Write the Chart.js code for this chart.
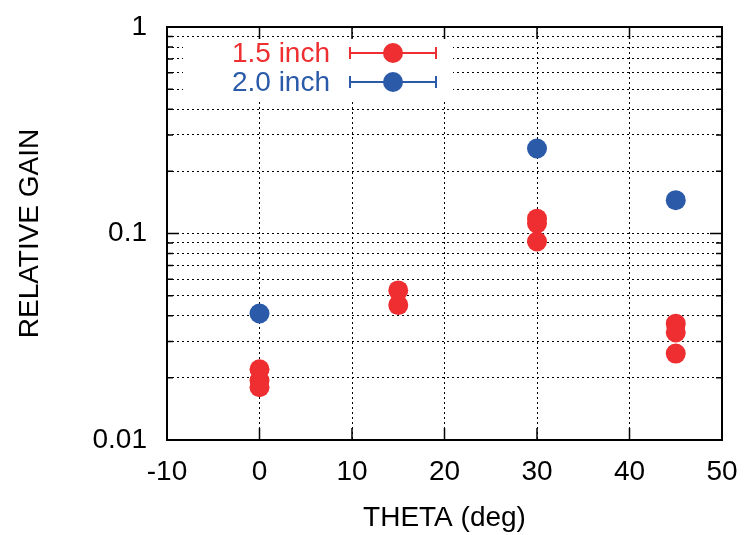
<!DOCTYPE html>
<html>
<head>
<meta charset="utf-8">
<script src="https://cdn.jsdelivr.net/npm/chart.js@4.4.1/dist/chart.umd.min.js"></script>
<style>
  html, body { margin: 0; padding: 0; background: #fff; }
  #wrap { width: 746px; height: 535px; }
</style>
</head>
<body>
<div id="wrap"><canvas id="myChart"></canvas></div>
<script>
// data
const redTheta = [0, 0, 0, 15, 15, 30, 30, 30, 45, 45, 45]
const redGain = [0.022, 0.0194, 0.018, 0.053, 0.045, 0.118, 0.112, 0.0915, 0.0366, 0.0332, 0.0262]
const blueTheta = [0, 30, 45]
const blueGain = [0.041, 0.258, 0.145]

const xTicks = [-10, 0, 10, 20, 30, 40, 50]
const yMajor = [0.01, 0.1, 1]
const yLabels = ['0.01', '0.1', '1']
const seriesNames = ['1.5 inch', '2.0 inch']

const RED = '#ee2e30'
const BLUE = '#2b5aa8'
const FONT = '"Liberation Sans", Arial, sans-serif'

const toPoints = (xs, ys) => xs.map((x, i) => ({x: x, y: ys[i]}))

// minor decade positions for the log axis
const yAll = []
yMajor.slice(0, -1).forEach(d => { for (let k = 1; k < 10; k++) yAll.push(d * k) })
yAll.push(1)

// gnuplot-like frame, inward ticks on all four sides, and the legend
const framePlugin = {
    id: 'frame',
    afterDatasetsDraw(chart) {
        const ctx = chart.ctx
        const a = chart.chartArea
        const xs = chart.scales.x
        const ys = chart.scales.y
        ctx.save()
        // opaque key box
        ctx.fillStyle = '#fff'
        ctx.fillRect(183, 38, 270, 63)

        ctx.strokeStyle = '#000'
        ctx.lineWidth = 1.5
        ctx.beginPath()
        xTicks.forEach(v => {
            const px = xs.getPixelForValue(v)
            ctx.moveTo(px, a.bottom); ctx.lineTo(px, a.bottom - 12)
            ctx.moveTo(px, a.top); ctx.lineTo(px, a.top + 12)
        })
        yAll.forEach(v => {
            const py = ys.getPixelForValue(v)
            const len = yMajor.some(m => Math.abs(m - v) < 1e-9) ? 12 : 6
            ctx.moveTo(a.left, py); ctx.lineTo(a.left + len, py)
            ctx.moveTo(a.right, py); ctx.lineTo(a.right - len, py)
        })
        ctx.stroke()
        ctx.lineWidth = 2
        ctx.strokeRect(a.left, a.top, a.right - a.left, a.bottom - a.top)

        // legend
        const rows = [[seriesNames[0], RED, 53], [seriesNames[1], BLUE, 82]]
        ctx.font = '28px ' + FONT
        ctx.textAlign = 'right'
        ctx.textBaseline = 'middle'
        rows.forEach(([txt, col, y]) => {
            ctx.fillStyle = col
            ctx.strokeStyle = col
            ctx.fillText(txt, 330, y + 1)
            ctx.lineWidth = 2
            ctx.beginPath()
            ctx.moveTo(350, y); ctx.lineTo(436, y)
            ctx.moveTo(350, y - 6); ctx.lineTo(350, y + 6)
            ctx.moveTo(436, y - 6); ctx.lineTo(436, y + 6)
            ctx.stroke()
            ctx.beginPath()
            ctx.arc(393, y, 10, 0, Math.PI * 2)
            ctx.fill()
        })
        ctx.restore()
    }
}

const data = {
    datasets: [
        {
            label: seriesNames[0],
            data: toPoints(redTheta, redGain),
            backgroundColor: RED,
            borderWidth: 0,
            pointRadius: 10,
            pointHoverRadius: 10
        },
        {
            label: seriesNames[1],
            data: toPoints(blueTheta, blueGain),
            backgroundColor: BLUE,
            borderWidth: 0,
            pointRadius: 10,
            pointHoverRadius: 10
        }
    ]
}

const config = {
    type: 'scatter',
    data: data,
    options: {
        responsive: true,
        maintainAspectRatio: false,
        animation: false,
        layout: {
            padding: {top: 27, right: 24, left: 0, bottom: 0}
        },
        plugins: {
            legend: {display: false},
            tooltip: {enabled: false}
        },
        scales: {
            x: {
                type: 'linear',
                min: -10,
                max: 50,
                afterFit: s => {
                    s.height = 95
                    s.paddingLeft = 0
                    s.paddingRight = 0
                },
                afterBuildTicks: s => { s.ticks = xTicks.map(v => ({value: v})) },
                grid: {color: '#000', lineWidth: 1, drawTicks: false},
                border: {display: false, dash: [2, 3]},
                ticks: {
                    color: '#000',
                    padding: 15,
                    font: {family: FONT, size: 28},
                    maxRotation: 0
                },
                title: {
                    display: true,
                    text: 'THETA (deg)',
                    color: '#000',
                    font: {family: FONT, size: 28},
                    padding: {top: 0, bottom: 0}
                }
            },
            y: {
                type: 'logarithmic',
                min: 0.01,
                max: 1,
                afterFit: s => {
                    s.width = 167
                    s.paddingTop = 0
                    s.paddingBottom = 0
                },
                afterBuildTicks: s => { s.ticks = yAll.map(v => ({value: v})) },
                grid: {color: '#000', lineWidth: 1, drawTicks: false},
                border: {display: false, dash: [2, 3]},
                ticks: {
                    color: '#000',
                    padding: 20,
                    autoSkip: false,
                    font: {family: FONT, size: 28},
                    callback: v => {
                        const i = yMajor.findIndex(m => Math.abs(m - v) < 1e-9)
                        return i >= 0 ? yLabels[i] : ''
                    }
                },
                title: {
                    display: true,
                    text: 'RELATIVE GAIN',
                    color: '#000',
                    font: {family: FONT, size: 28},
                    padding: {top: 13, bottom: 0}
                }
            }
        }
    },
    plugins: [framePlugin]
}

const ctx = document.getElementById('myChart').getContext('2d')
const chart = new Chart(ctx, config)
</script>
</body>
</html>
